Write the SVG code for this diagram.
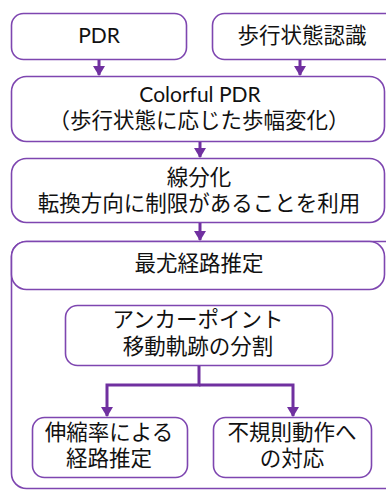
<svg xmlns="http://www.w3.org/2000/svg" width="386" height="490" viewBox="0 0 386 490">
<style>
.box{fill:#fff;stroke:#7e46b0;stroke-width:1.6}
.outer{fill:none;stroke:#7e46b0;stroke-width:1.6}
.t{font-family:"Liberation Sans","Noto Sans CJK JP",sans-serif;font-size:21.5px;fill:#111;text-anchor:middle}
.lat{font-family:"Lato","Liberation Sans",sans-serif;font-size:21px}
.ln{fill:none;stroke:#7030a0;stroke-width:3}
</style>
<defs>
<marker id="ah" markerWidth="12" markerHeight="12" viewBox="0 0 10 12" refX="9" refY="6" orient="auto" markerUnits="userSpaceOnUse">
<path d="M0,0 L10,6 L0,12 Z" fill="#7030a0"/>
</marker>
</defs>
<rect class="outer" x="11.5" y="241.5" width="392" height="247" rx="15"/>
<g id="n-pdr"><rect class="box" x="11.5" y="13.5" width="175" height="46" rx="12"/><text class="t lat" x="99" y="43">PDR</text></g>
<g id="n-state"><rect class="box" x="212.5" y="13.5" width="200" height="46" rx="12"/><text class="t" x="302" y="43">歩行状態認識</text></g>
<g id="n-colorful"><rect class="box" x="11.5" y="76.5" width="373" height="65" rx="15"/><text class="t lat" x="200" y="102">Colorful PDR</text><text class="t" x="199" y="127.5">（歩行状態に応じた歩幅変化）</text></g>
<g id="n-line"><rect class="box" x="11.5" y="158.5" width="373" height="64" rx="15"/><text class="t" x="199" y="185">線分化</text><text class="t" x="199" y="211">転換方向に制限があることを利用</text></g>
<g id="n-ml"><rect class="box" x="11.5" y="241.5" width="373" height="48" rx="15"/><text class="t" x="199" y="271">最尤経路推定</text></g>
<g id="n-anchor"><rect class="box" x="65.5" y="305.5" width="267" height="60" rx="12"/><text class="t" x="198" y="327">アンカーポイント</text><text class="t" x="198" y="354">移動軌跡の分割</text></g>
<g id="n-stretch"><rect class="box" x="32.5" y="417.5" width="155" height="60" rx="12"/><text class="t" x="109" y="440">伸縮率による</text><text class="t" x="109" y="466">経路推定</text></g>
<g id="n-irreg"><rect class="box" x="213.5" y="417.5" width="158" height="60" rx="12"/><text class="t" x="292" y="440">不規則動作へ</text><text class="t" x="292" y="466">の対応</text></g>
<g id="connectors">
<path class="ln" d="M99,60 V75" marker-end="url(#ah)"/>
<path class="ln" d="M300,60 V75" marker-end="url(#ah)"/>
<path class="ln" d="M200,142 V157" marker-end="url(#ah)"/>
<path class="ln" d="M200,223 V240" marker-end="url(#ah)"/>
<path class="ln" d="M199,366 V385 H107 V416" marker-end="url(#ah)"/>
<path class="ln" d="M199,385 H293 V416" marker-end="url(#ah)"/>
</g>
</svg>
